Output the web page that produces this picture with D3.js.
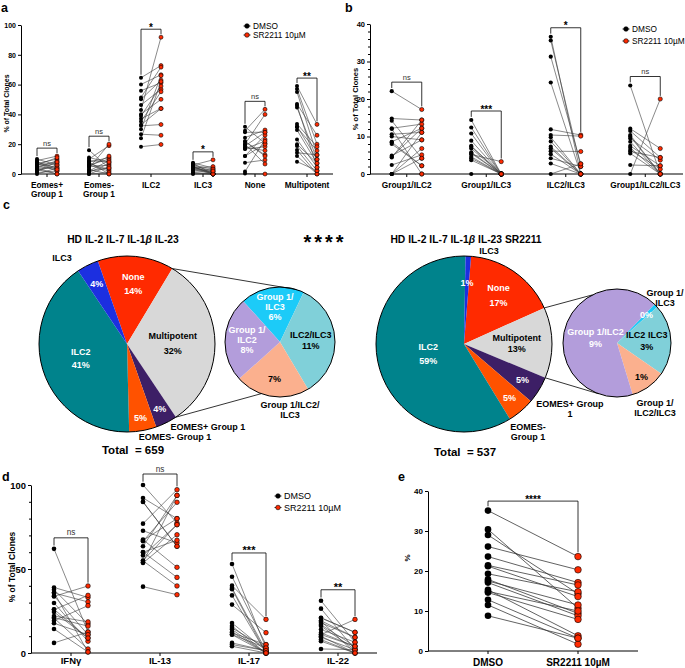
<!DOCTYPE html>
<html>
<head>
<meta charset="utf-8">
<script src="https://cdn.jsdelivr.net/npm/d3@7"></script>
<style>
  body { margin: 0; background: #fff; }
  svg { font-family: "Liberation Sans", Arial, Helvetica, sans-serif; }
</style>
</head>
<body>
<svg id="fig" width="685" height="668"></svg>
<script>
// ---------- data ----------
// panel a: lineage of clones (% of total), paired donors
const catsA = ['Eomes+\nGroup 1', 'Eomes-\nGroup 1', 'ILC2', 'ILC3', 'None', 'Multipotent'];
const dmsoA = [
  [10, 9, 8, 7, 7, 6, 5, 5, 4, 3, 3, 2, 1, 0, 6, 4, 8, 2],
  [16, 10, 9, 8, 7, 6, 6, 5, 4, 3, 2, 1, 0, 0, 8, 5, 2, 11],
  [64.6, 60.1, 55.9, 51.4, 50.1, 46.3, 43, 40.1, 39, 37, 35.2, 33, 32.3, 30, 26.7, 24, 18.3],
  [7.5, 7, 6, 5.5, 5, 4.5, 4, 4, 3.5, 3, 2, 1, 0.7, 0, 6, 5, 3],
  [31.7, 29, 24.4, 21.7, 20, 18.8, 16.8, 12.1, 7.6, 1.6, 0.4, 18, 20, 28, 12, 22, 17],
  [59, 57, 55, 47, 44.7, 33.6, 31.3, 29.5, 23.2, 18.8, 16.1, 14.3, 12.1, 8.3, 32, 46, 20]
];
const srA = [
  [6, 12, 4, 10, 2, 8, 7, 3, 9, 0, 5, 6, 2, 4, 11, 0, 3, 8],
  [4, 19, 8, 11, 3, 10, 2, 6, 20, 0, 9, 7, 5, 1, 0, 12, 4, 8],
  [72.8, 66.6, 61.2, 71.7, 63, 56.8, 91.8, 50.1, 59, 44, 55.2, 43.9, 33.2, 66, 26, 62, 19.8],
  [4, 0, 9.5, 2, 0, 1, 5, 0, 3, 0, 1.8, 0, 0, 0, 3.3, 0, 2],
  [20.6, 43.4, 29.5, 12.8, 40, 28, 18.3, 26, 9.4, 23.2, 0, 15.7, 6.7, 28, 20, 12, 22],
  [33.3, 20, 12.8, 26, 9.8, 18.3, 15.6, 7.2, 4.5, 2.2, 0, 12.8, 0, 2.2, 9.8, 4.5, 7.2]
];
const sigA = ['ns', 'ns', '*', '*', 'ns', '**'];

// panel b: multipotent subsets
const catsB = ['Group1/ILC2', 'Group1/ILC3', 'ILC2/ILC3', 'Group1/ILC2/ILC3'];
const dmsoB = [
  [22.1, 14.8, 14.2, 12.2, 10.6, 8.6, 8, 4.9, 4.4, 2.4, 0, 0, 0, 12, 8.5, 4.6, 0, 10],
  [14.4, 12.4, 10.8, 8.9, 7.3, 6.8, 5.8, 5.2, 4.6, 4.2, 3.7, 0, 7.5, 5.5],
  [36.6, 35.6, 31.3, 24.4, 11.9, 10.4, 9.8, 7.3, 6.1, 5.3, 4.2, 2.8, 0, 8.7, 6.8],
  [23.6, 12.1, 11.5, 10.4, 9.5, 8.6, 7.5, 6.4, 5.5, 2.4, 0, 10, 7, 6]
];
const srB = [
  [17.2, 14.4, 4.2, 13.3, 11.1, 12.2, 2.2, 9.1, 14.4, 5.1, 0, 6.8, 11.1, 0, 2.2, 12.2, 4.2, 9.1],
  [0, 0, 0, 0, 0, 0, 0, 3.3, 0, 0, 0, 0, 0, 0],
  [0, 2, 2.7, 0, 10.4, 10.1, 0, 0, 6, 0, 2, 0, 2.7, 0, 0],
  [0, 6.8, 4.4, 0, 3.7, 0, 2.2, 1.3, 0, 2.2, 20, 0, 0, 4.4]
];
const sigB = ['ns', '***', '*', 'ns'];

// panel c: pie charts (% of clones)
const pieCats = ['None', 'Multipotent', 'EOMES+ Group 1', 'EOMES- Group 1', 'ILC2', 'ILC3'];
const pieLeft = [14, 32, 4, 5, 41, 4];
const pieRight = [17, 13, 5, 5, 59, 1];
const subCats = ['Group 1/ILC3', 'ILC2/ILC3', 'Group 1/ILC2/ILC3', 'Group 1/ILC2'];
const subLeft = [6, 11, 7, 8];
const subRight = [0.15, 2.8, 1.4, 8.8];
const totals = [659, 537];

// panel d: cytokine production
const catsD = ['IFNγ', 'IL-13', 'IL-17', 'IL-22'];
const dmsoD = [
  [62, 39, 37.7, 35.7, 33.7, 29.8, 25.8, 24.4, 20.8, 19.2, 17.7, 14.3, 6, 22, 34, 26, 21, 36],
  [100, 92.3, 89.9, 77, 72.8, 67.5, 66.5, 63.5, 60.1, 58.1, 54.9, 53.6, 39.5, 60, 55, 67, 90, 54],
  [53, 45.4, 40.1, 38.7, 34.3, 28.8, 17.9, 14.9, 12.5, 10.9, 6, 4, 12, 14, 11, 5, 16, 38],
  [31.1, 26.4, 20.8, 19.2, 16.8, 10.9, 9.3, 7, 2.4, 18, 12, 10, 14, 21, 8, 16, 11, 19]
];
const srD = [
  [12.5, 33.1, 17.3, 30.4, 39.9, 7, 34.3, 8.9, 2.4, 28.2, 10.9, 0.6, 12.5, 18.5, 10.9, 8.9, 16, 0.6],
  [77.4, 80, 63.5, 97.2, 65.5, 51, 89.7, 93.8, 45, 76.4, 39.9, 70.4, 34.7, 67.1, 76.4, 80, 63.5, 93.8],
  [3, 5, 20, 1.4, 0, 12.1, 1.4, 3, 0, 0, 1.4, 0, 5, 0, 3, 1.4, 0, 0],
  [6.4, 2, 12.3, 9.3, 4, 20, 2, 0, 2, 9.3, 4, 0, 6.4, 12.3, 0, 2, 4, 0]
];
const sigD = ['ns', 'ns', '***', '**'];

// panel e
const groupsE = ['DMSO', 'SR2211 10µM'];
const dmsoE = [35.1, 30.4, 29, 26.1, 23.6, 21.4, 19.3, 17.9, 17.1, 15.3, 14.6, 12.8, 11.5, 8.8, 17.5, 14.9, 21.2];
const srE = [23.6, 10.7, 14.3, 20.3, 17.1, 16.5, 14.8, 9.4, 8.8, 3.8, 7.9, 3.2, 1.7, 3.2, 11.5, 10, 13.6];
const sigE = '****';

// ---------- drawing ----------
const RED = '#ff2a00';
const svg = d3.select('#fig');

function yAxis(g, y, x0, ticks, minor, fs) {
  g.append('g').attr('transform', `translate(${x0},0)`)
    .call(d3.axisLeft(y).tickValues(ticks).tickSize(3).tickSizeOuter(0).tickPadding(2))
    .attr('font-family', null).attr('font-size', fs).attr('font-weight', 'bold');
  if (minor) {
    g.append('g').attr('transform', `translate(${x0},0)`)
      .call(d3.axisLeft(y).tickValues(minor).tickSize(2).tickFormat(''))
      .call(a => a.select('.domain').remove());
  }
}

function yTitle(g, text, x, yc, fs) {
  g.append('text').attr('transform', `translate(${x},${yc}) rotate(-90)`)
    .attr('text-anchor', 'middle').attr('font-size', fs).attr('font-weight', 'bold').text(text);
}

function pairs(g, xl, xr, y, dm, sr, r, lw) {
  g.append('g').selectAll('line').data(d3.zip(dm, sr)).join('line')
    .attr('x1', xl).attr('x2', xr).attr('y1', d => y(d[0])).attr('y2', d => y(d[1]))
    .attr('stroke', '#3a3a3a').attr('stroke-width', lw);
  g.append('g').selectAll('circle').data(dm).join('circle')
    .attr('cx', xl).attr('cy', d => y(d)).attr('r', r).attr('fill', '#000');
  g.append('g').selectAll('circle').data(sr).join('circle')
    .attr('cx', xr).attr('cy', d => y(d)).attr('r', r).attr('fill', RED)
    .attr('stroke', '#000').attr('stroke-width', 0.6);
}

function bracket(g, xl, xr, y, dm, sr, r, gap, sig, sigFs) {
  const hD = y(d3.max(dm)), hS = y(d3.max(sr));
  const top = Math.min(hD, hS) - gap;
  g.append('path').attr('d', `M${xl},${hD - r - 1}V${top}H${xr}V${hS - r - 1}`)
    .attr('fill', 'none').attr('stroke', '#000').attr('stroke-width', 0.8);
  const ns = sig === 'ns';
  g.append('text').attr('x', (xl + xr) / 2).attr('y', ns ? top - 2.5 : top + 1.5)
    .attr('text-anchor', 'middle').attr('font-size', ns ? sigFs * 0.75 : sigFs)
    .attr('font-weight', ns ? 'normal' : 'bold').attr('fill', ns ? '#333' : '#000').text(sig);
}

function legend(g, x0, y0, dy, fs) {
  [['DMSO', '#000'], ['SR2211 10µM', RED]].forEach(([t, c], i) => {
    const yy = y0 + i * dy;
    g.append('line').attr('x1', x0 - 3.5).attr('x2', x0 + 3.5).attr('y1', yy).attr('y2', yy)
      .attr('stroke', '#000').attr('stroke-width', 0.8);
    g.append('circle').attr('cx', x0).attr('cy', yy).attr('r', 2.3).attr('fill', c)
      .attr('stroke', '#000').attr('stroke-width', 0.6);
    g.append('text').attr('x', x0 + 6).attr('y', yy + fs * 0.35).attr('font-size', fs).text(t);
  });
}

function pairedPanel(o) {
  const g = svg.append('g');
  const x = d3.scaleBand().domain(o.cats).range(o.band);
  const y = d3.scaleLinear().domain([0, o.yMax]).range([o.y0, o.y1]);
  yAxis(g, y, o.axisX, o.ticks, o.minor, o.tickFs);
  g.append('line').attr('x1', o.axisX).attr('x2', o.xEnd).attr('y1', y(0)).attr('y2', y(0))
    .attr('stroke', '#000').attr('stroke-width', 1);
  const xa = g.append('g').attr('transform', `translate(0,${y(0)})`)
    .call(d3.axisBottom(x).tickSize(3).tickPadding(o.catPad))
    .attr('font-family', null).attr('font-size', o.catFs).attr('font-weight', 'bold');
  xa.select('.domain').remove();
  xa.selectAll('.tick text').each(function (d) {
    const t = d3.select(this), lines = d.split('\n');
    t.text(null).attr('dy', null);
    lines.forEach((l, i) => t.append('tspan').attr('x', 0).attr('dy', i ? '1.1em' : '0.71em').text(l));
  });
  o.cats.forEach((c, i) => {
    const cx = x(c) + x.bandwidth() / 2;
    pairs(g, cx - o.off, cx + o.off, y, o.dmso[i], o.sr[i], o.r, 0.6);
    bracket(g, cx - o.off, cx + o.off, y, o.dmso[i], o.sr[i], o.r, o.gap, o.sig[i], o.sigFs);
  });
  yTitle(g, '% of Total Clones', o.titleX, (o.y0 + o.y1) / 2 + o.titleDy, o.titleFs);
  legend(g, o.legX, o.legY, o.legDy, o.legFs);
}

function panelLetter(t, x, y) {
  svg.append('text').attr('x', x).attr('y', y).attr('font-size', 12.5).attr('font-weight', 'bold').text(t);
}

// ---- a ----
pairedPanel({
  cats: catsA, dmso: dmsoA, sr: srA, sig: sigA,
  band: [21, 333], axisX: 21, xEnd: 333, y0: 174, y1: 25, yMax: 100,
  ticks: [0, 20, 40, 60, 80, 100], tickFs: 7, catFs: 8.3, catPad: 5,
  off: 10, r: 2, gap: 8, sigFs: 10,
  titleX: 9, titleDy: 4, titleFs: 7,
  legX: 247, legY: 26, legDy: 9, legFs: 8.3
});
panelLetter('a', 1, 12);

// ---- b ----
pairedPanel({
  cats: catsB, dmso: dmsoB, sr: srB, sig: sigB,
  band: [367, 685], axisX: 370, xEnd: 683, y0: 174, y1: 24, yMax: 40,
  ticks: [0, 10, 20, 30, 40], minor: d3.range(2, 40, 2).filter(v => v % 10), tickFs: 7.5, catFs: 8.3, catPad: 5,
  off: 15, r: 2.1, gap: 9, sigFs: 10,
  titleX: 358, titleDy: 0, titleFs: 7.5,
  legX: 626, legY: 29, legDy: 12, legFs: 8.3
});
panelLetter('b', 345, 12);

// ---- d ----
pairedPanel({
  cats: catsD, dmso: dmsoD, sr: srD, sig: sigD,
  band: [26.5, 382.5], axisX: 31, xEnd: 377, y0: 653, y1: 485, yMax: 100,
  ticks: [0, 50, 100], minor: [10, 20, 30, 40, 60, 70, 80, 90], tickFs: 9.4, catFs: 9.5, catPad: 1.5,
  off: 17, r: 2.3, gap: 11, sigFs: 11,
  titleX: 15, titleDy: -2, titleFs: 8.5,
  legX: 278, legY: 496, legDy: 11.5, legFs: 9
});
panelLetter('d', 2, 481);

// ---- e ----
(function () {
  const g = svg.append('g');
  const x = d3.scaleBand().domain(groupsE).range([443, 623]);
  const y = d3.scaleLinear().domain([0, 40]).range([651, 491]);
  yAxis(g, y, 428, [0, 10, 20, 30, 40], null, 8);
  g.append('line').attr('x1', 428).attr('x2', 638).attr('y1', y(0)).attr('y2', y(0)).attr('stroke', '#000');
  const xa = g.append('g').attr('transform', `translate(0,${y(0)})`)
    .call(d3.axisBottom(x).tickSize(3).tickPadding(5))
    .attr('font-family', null).attr('font-size', 10).attr('font-weight', 'bold');
  xa.select('.domain').remove();
  const xl = x(groupsE[0]) + x.bandwidth() / 2, xr = x(groupsE[1]) + x.bandwidth() / 2;
  pairs(g, xl, xr, y, dmsoE, srE, 3.3, 0.8);
  bracket(g, xl, xr, y, dmsoE, srE, 3.3, 9.5, sigE, 10);
  g.append('text').attr('transform', 'translate(410,558) rotate(-90)')
    .attr('text-anchor', 'middle').attr('font-size', 8).attr('font-weight', 'bold').text('%');
})();
panelLetter('e', 398, 481);

// ---- c: pies ----
panelLetter('c', 3, 209);
const bigColors = ['#ff2a00', '#d8d8d8', '#3d1f66', '#ff5200', '#00838c', '#1c2fe0'];
const subColors = ['#1ccbf8', '#80d0d9', '#fbb08e', '#b39ddb'];

function multiText(g, x, y, lines, lh, fs, fill) {
  const t = g.append('text').attr('text-anchor', 'middle').attr('font-size', fs)
    .attr('font-weight', 'bold').attr('fill', fill);
  const y0 = y - (lines.length - 1) * lh / 2 + fs * 0.35;
  lines.forEach((l, i) => t.append('tspan').attr('x', x).attr('y', y0 + i * lh).text(l));
}

function drawPie(o) {
  const g = svg.append('g').attr('transform', `translate(${o.cx},${o.cy})`);
  const a0 = o.start * Math.PI / 180;
  const arcs = d3.pie().sort(null).startAngle(a0).endAngle(a0 + 2 * Math.PI)(o.values);
  g.selectAll('path').data(arcs).join('path')
    .attr('d', d3.arc().innerRadius(0).outerRadius(o.r)).attr('fill', (d, i) => o.colors[i]);
  g.append('circle').attr('r', o.r).attr('fill', 'none').attr('stroke', '#000').attr('stroke-width', 1);
  arcs.forEach((a, i) => {
    const s = o.labels[i];
    if (!s) return;
    const [lx, ly] = d3.arc().innerRadius(o.r * s.f).outerRadius(o.r * s.f).centroid(a);
    multiText(g, lx, ly, s.t, s.lh || 11, 9, s.c || '#fff');
  });
  (o.outer || []).forEach(s => multiText(g, s.dx, s.dy, s.t, 10.5, 9, '#000'));
  return arcs;
}

function polar(cx, cy, r, a) { return [cx + r * Math.sin(a), cy - r * Math.cos(a)]; }

function connect(big, bc, sc, sr, topDeg, botDeg) {
  const m = big[1];
  const p1 = polar(bc[0], bc[1], 88, m.startAngle), p2 = polar(bc[0], bc[1], 88, m.endAngle);
  const q1 = polar(sc[0], sc[1], sr, topDeg * Math.PI / 180), q2 = polar(sc[0], sc[1], sr, botDeg * Math.PI / 180);
  [[p1, q1], [p2, q2]].forEach(([p, q]) => svg.append('line')
    .attr('x1', p[0]).attr('y1', p[1]).attr('x2', q[0]).attr('y2', q[1])
    .attr('stroke', '#000').attr('stroke-width', 0.8));
}

const pct = v => Math.round(v) + '%';

// left pie
const bigL = drawPie({
  cx: 127, cy: 344, r: 88, values: pieLeft, colors: bigColors, start: -19.4,
  labels: [
    { t: ['None', pct(pieLeft[0])], f: 0.69, lh: 14 },
    { t: ['Multipotent', pct(pieLeft[1])], f: 0.52, lh: 15, c: '#000' },
    { t: [pct(pieLeft[2])], f: 0.83 },
    { t: [pct(pieLeft[3])], f: 0.85 },
    { t: ['ILC2', pct(pieLeft[4])], f: 0.55, lh: 13 },
    { t: [pct(pieLeft[5])], f: 0.77 }
  ],
  outer: [
    { dx: -65, dy: -86, t: ['ILC3'] },
    { dx: 81, dy: 83, t: ['EOMES+ Group 1'] },
    { dx: 48, dy: 93, t: ['EOMES- Group 1'] }
  ]
});
drawPie({
  cx: 280, cy: 342, r: 55, values: subLeft, colors: subColors, start: -42,
  labels: [
    { t: ['Group 1/', 'ILC3', pct(subLeft[0])], f: 0.64, lh: 10 },
    { t: ['ILC2/ILC3', pct(subLeft[1])], f: 0.56, lh: 11, c: '#000' },
    { t: [pct(subLeft[2])], f: 0.68, c: '#000' },
    { t: ['Group 1/', 'ILC2', pct(subLeft[3])], f: 0.6, lh: 10 }
  ],
  outer: [{ dx: 10, dy: 68, t: ['Group 1/ILC2/', 'ILC3'] }]
});
connect(bigL, [127, 344], [280, 342], 55, 17.5, 200);

// right pie
const bigR = drawPie({
  cx: 464, cy: 344, r: 88, values: pieRight, colors: bigColors, start: 4.6,
  labels: [
    { t: ['None', pct(pieRight[0])], f: 0.68, lh: 15 },
    { t: ['Multipotent', pct(pieRight[1])], f: 0.6, lh: 11, c: '#000' },
    { t: [pct(pieRight[2])], f: 0.78 },
    { t: [pct(pieRight[3])], f: 0.8 },
    { t: ['ILC2', pct(pieRight[4])], f: 0.42, lh: 14 },
    { t: [pct(pieRight[5])], f: 0.7 }
  ],
  outer: [
    { dx: 25, dy: -93, t: ['ILC3'] },
    { dx: 106, dy: 65, t: ['EOMES+ Group', '1'] },
    { dx: 64, dy: 88, t: ['EOMES-', 'Group 1'] }
  ]
});
drawPie({
  cx: 617, cy: 343, r: 54, values: subRight, colors: subColors, start: 44,
  labels: [
    { t: [pct(subRight[0])], f: 0.76 },
    { t: ['ILC2 ILC3', pct(subRight[1])], f: 0.55, lh: 12, c: '#000' },
    { t: [pct(subRight[2])], f: 0.77, c: '#000' },
    { t: ['Group 1/ILC2', pct(subRight[3])], f: 0.41, lh: 12 }
  ],
  outer: [
    { dx: 48, dy: -45, t: ['Group 1/', 'ILC3'] },
    { dx: 38, dy: 65, t: ['Group 1/', 'ILC2/ILC3'] }
  ]
});
connect(bigR, [464, 344], [617, 343], 54, -27, 200);

// pie titles, totals, significance
[[123, 'HD IL-2 IL-7 IL-1', ' IL-23'], [466, 'HD IL-2 IL-7 IL-1', ' IL-23 SR2211']].forEach(([x, a, b]) => {
  const t = svg.append('text').attr('x', x).attr('y', 243).attr('text-anchor', 'middle')
    .attr('font-size', 10.3).attr('font-weight', 'bold');
  t.append('tspan').text(a);
  t.append('tspan').attr('font-style', 'italic').text('β');
  t.append('tspan').text(b);
});
[[133, 454, totals[0]], [465, 456, totals[1]]].forEach(([x, y, n]) => {
  svg.append('text').attr('x', x).attr('y', y).attr('text-anchor', 'middle')
    .attr('font-size', 11.5).attr('font-weight', 'bold').attr('xml:space', 'preserve')
    .text('Total  = ' + n);
});
svg.append('text').attr('x', 325).attr('y', 249).attr('text-anchor', 'middle')
  .attr('font-size', 20).attr('font-weight', 'bold').attr('letter-spacing', 3).text('****');
</script>
</body>
</html>
